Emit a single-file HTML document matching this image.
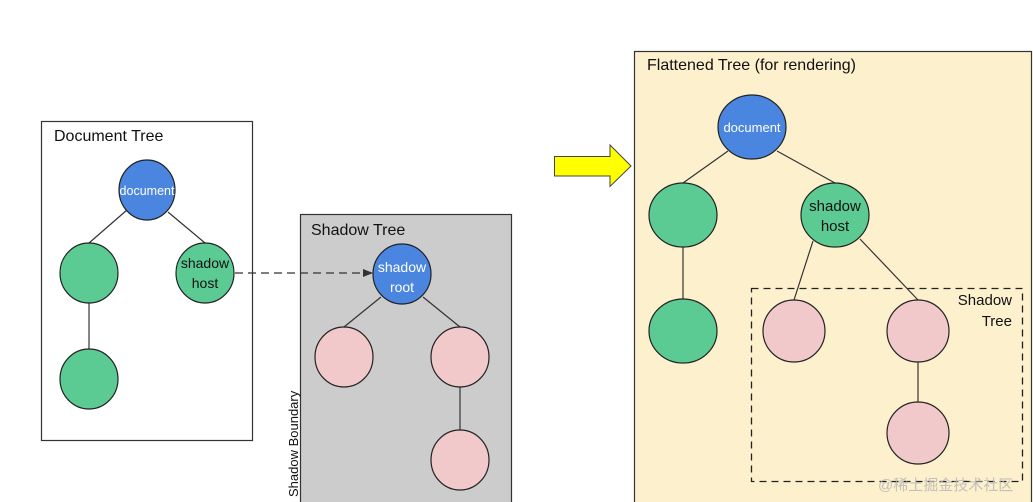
<!DOCTYPE html>
<html><head><meta charset="utf-8"><style>
html,body{margin:0;padding:0;background:#fff;}
svg{display:block;}
text{font-family:"Liberation Sans","Noto Sans CJK SC",sans-serif;}
</style></head><body>
<svg width="1033" height="502" viewBox="0 0 1033 502" xmlns="http://www.w3.org/2000/svg">
<defs><marker id="ah" markerWidth="10" markerHeight="8" refX="9" refY="4" orient="auto" markerUnits="userSpaceOnUse"><path d="M0,0 L10,4 L0,8 Z" fill="#333"/></marker></defs>
<!-- Document tree -->
<rect x="41.5" y="121.5" width="211" height="319" fill="#fff" stroke="#333" stroke-width="1.2"/>
<text x="54" y="141" font-size="16" fill="#111">Document Tree</text>
<g stroke="#333" stroke-width="1.2">
<line x1="127" y1="210" x2="89" y2="243"/>
<line x1="168" y1="212" x2="205" y2="243"/>
<line x1="89" y1="303" x2="89" y2="349"/>
</g>
<g stroke="#222" stroke-width="1.2">
<ellipse cx="147" cy="190" rx="28" ry="30" fill="#4a86e0"/>
<ellipse cx="89" cy="273" rx="29" ry="30" fill="#5bcb93"/>
<ellipse cx="205" cy="273" rx="29" ry="30" fill="#5bcb93"/>
<ellipse cx="89" cy="379" rx="29" ry="30" fill="#5bcb93"/>
</g>
<text x="147" y="195" font-size="12.5" fill="#fff" text-anchor="middle">document</text>
<text x="205" y="268" font-size="14" fill="#111" text-anchor="middle">shadow</text>
<text x="205" y="288" font-size="14" fill="#111" text-anchor="middle">host</text>
<!-- Shadow tree -->
<rect x="300.5" y="214.5" width="211" height="290" fill="#cccccc" stroke="#333" stroke-width="1.2"/>
<text x="311" y="235" font-size="16" fill="#111">Shadow Tree</text>
<text transform="translate(298,497) rotate(-90)" font-size="13" fill="#111">Shadow Boundary</text>
<line x1="235" y1="273" x2="372" y2="273" stroke="#333" stroke-width="1.3" stroke-dasharray="8,5" marker-end="url(#ah)"/>
<g stroke="#333" stroke-width="1.2">
<line x1="381" y1="297" x2="344" y2="327"/>
<line x1="423" y1="297" x2="460" y2="327"/>
<line x1="460" y1="387" x2="460" y2="430"/>
</g>
<g stroke="#222" stroke-width="1.2">
<ellipse cx="402" cy="274" rx="29" ry="30" fill="#4a86e0"/>
<ellipse cx="344" cy="357" rx="29" ry="30" fill="#f2c9cb"/>
<ellipse cx="460" cy="357" rx="29" ry="30" fill="#f2c9cb"/>
<ellipse cx="460" cy="460" rx="29" ry="30" fill="#f2c9cb"/>
</g>
<text x="402" y="272" font-size="14" fill="#fff" text-anchor="middle">shadow</text>
<text x="402" y="292" font-size="14" fill="#fff" text-anchor="middle">root</text>
<!-- Arrow -->
<path d="M554.5,156.5 L610,156.5 L610,145 L631,166 L610,186.5 L610,176 L554.5,176 Z" fill="#ffff00" stroke="#444" stroke-width="1"/>
<!-- Flattened -->
<rect x="634.5" y="51.5" width="397" height="455" fill="#fdf0cd" stroke="#333" stroke-width="1.2"/>
<text x="647" y="70" font-size="16" fill="#111">Flattened Tree (for rendering)</text>
<g stroke="#333" stroke-width="1.2">
<line x1="728" y1="151" x2="683" y2="183"/>
<line x1="777" y1="151" x2="835" y2="183"/>
<line x1="683" y1="247" x2="683" y2="299"/>
<line x1="813" y1="241" x2="794" y2="300"/>
<line x1="860" y1="239" x2="918" y2="300"/>
<line x1="918" y1="362" x2="918" y2="402"/>
</g>
<rect x="751.5" y="288.5" width="271" height="193" fill="none" stroke="#222" stroke-width="1.3" stroke-dasharray="7,5"/>
<g stroke="#222" stroke-width="1.2">
<ellipse cx="752" cy="127" rx="34" ry="32" fill="#4a86e0"/>
<ellipse cx="683" cy="215" rx="34" ry="32" fill="#5bcb93"/>
<ellipse cx="835" cy="215" rx="34" ry="32" fill="#5bcb93"/>
<ellipse cx="683" cy="331" rx="34" ry="32" fill="#5bcb93"/>
<ellipse cx="794" cy="331" rx="31" ry="31" fill="#f2c9cb"/>
<ellipse cx="918" cy="331" rx="31" ry="31" fill="#f2c9cb"/>
<ellipse cx="918" cy="433" rx="31" ry="31" fill="#f2c9cb"/>
</g>
<text x="752" y="132" font-size="13" fill="#fff" text-anchor="middle">document</text>
<text x="835" y="211" font-size="15" fill="#111" text-anchor="middle">shadow</text>
<text x="835" y="231" font-size="15" fill="#111" text-anchor="middle">host</text>
<text x="1012" y="305" font-size="15" fill="#111" text-anchor="end">Shadow</text>
<text x="1012" y="326" font-size="15" fill="#111" text-anchor="end">Tree</text>
<text x="878" y="490" font-size="15" fill="#b8b8b8" opacity="0.85">@稀土掘金技术社区</text>
</svg>
</body></html>
